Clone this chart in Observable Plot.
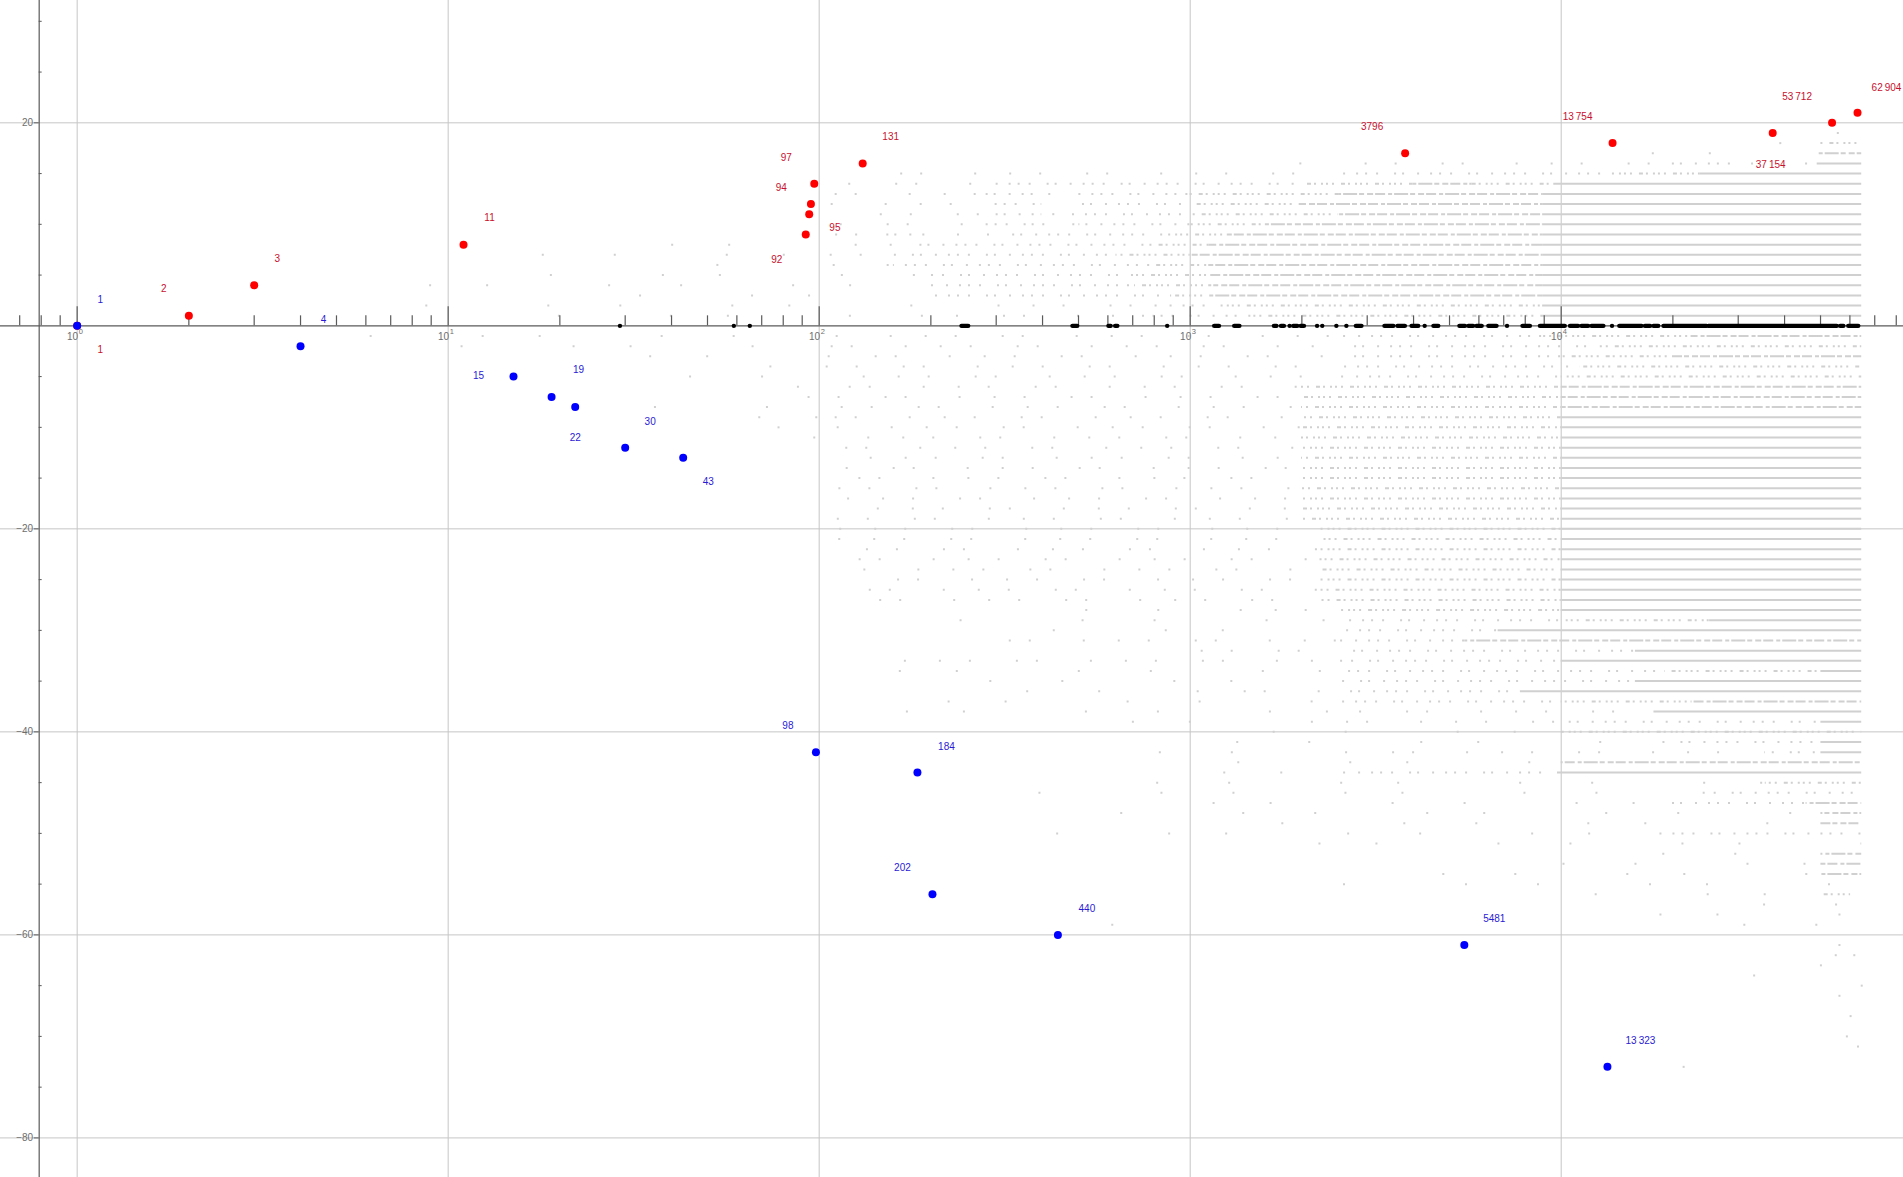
<!DOCTYPE html>
<html><head><meta charset="utf-8">
<script src="https://cdn.jsdelivr.net/npm/d3@7"></script>
<script src="https://cdn.jsdelivr.net/npm/@observablehq/plot@0.6"></script>
<style>
html,body{margin:0;padding:0;background:#fff;overflow:hidden;}
#chart svg{display:block;}
</style></head><body><div id="chart"></div>
<script>
// ---------- data ----------
// record highs (red) : n and value
const redN = [1, 2, 3, 11, 92, 94, 95, 97, 131, 3796, 13754, 37154, 53712, 62904];
const redY = [0, 1, 4, 8, 9, 11, 12, 14, 16, 17, 18, 19, 20, 21];
const redLabels = ["1","2","3","11","92","94","95","97","131","3796","13\u2009754","37\u2009154","53\u2009712","62\u2009904"];
// record lows (blue)
const blueN = [1, 4, 15, 19, 22, 30, 43, 98, 184, 202, 440, 5481, 13323];
const blueY = [0, -2, -5, -7, -8, -12, -13, -42, -44, -56, -60, -61, -73];
const blueLabels = ["1","4","15","19","22","30","43","98","184","202","440","5481","13\u2009323"];

// zeros (black), as log10(n): isolated ones and runs of consecutive zeros
const zeroSinglesLog = [1.463, 1.77, 1.813, 2.938, 3.268, 3.342, 3.356, 3.394, 3.421, 3.632, 3.854, 4.137];
const zeroRunsLog = [[2.385,2.403],[2.684,2.697],[2.781,2.787],[2.799,2.805],[3.066,3.079],[3.12,3.134],
  [3.227,3.234],[3.246,3.254],[3.279,3.29],[3.299,3.308],[3.448,3.463],[3.525,3.549],[3.56,3.58],
  [3.598,3.616],[3.657,3.67],[3.727,3.742],[3.751,3.764],[3.773,3.787],[3.805,3.827],[3.897,3.917],
  [3.944,4.011],[4.025,4.047],[4.056,4.074],[4.083,4.115],[4.158,4.218],[4.227,4.241],[4.25,4.263],
  [4.277,4.393],[4.398,4.744],[4.753,4.762],[4.775,4.802]];

// all other values (gray): per integer value, spans of log10(n) and how densely they are filled (0 sparse .. 5 full)
const upperRows = [
 [19, "4.72-4.81:0"],
 [18, "4.29-4.62:0,4.70-4.81:3"],
 [17, "4.10-4.55:0,4.69-4.81:4"],
 [16, "3.15-3.45:0,3.45-4.27:1,4.27-4.47:2,4.47-4.69:1,4.69-4.81:5"],
 [15, "2.12-3.40:1,3.40-4.13:2,4.13-4.375:3,4.375-4.81:5"],
 [14, "2.05-2.45:1,2.45-3.30:2,3.30-3.60:3,3.60-3.76:4,3.76-3.98:3,3.98-4.81:5"],
 [13, "2.00-2.45:1,2.45-2.60:2,2.60-2.70:1,2.70-3.00:2,3.00-3.40:3,3.40-3.95:4,3.95-4.81:5"],
 [12, "2.00-2.45:1,2.45-2.60:2,2.60-2.68:1,2.68-3.00:2,3.00-3.30:3,3.30-3.95:4,3.95-4.81:5"],
 [11, "2.10-2.45:1,2.45-2.60:2,2.60-2.68:1,2.68-3.00:2,3.00-3.40:3,3.40-3.95:4,3.95-4.81:5"],
 [10, "2.00-2.45:1,2.45-2.60:2,2.60-2.70:1,2.70-3.00:2,3.00-3.20:3,3.20-3.95:4,3.95-4.81:5"],
 [9,  "1.95-2.15:1,2.15-2.30:2,2.30-2.50:1,2.50-2.95:2,2.95-3.10:3,3.10-3.95:4,3.95-4.81:5"],
 [8,  "1.50-2.00:0,2.00-2.25:1,2.25-2.90:2,2.90-3.05:3,3.05-3.95:4,3.95-4.81:5"],
 [7,  "1.10-2.00:0,2.00-2.20:1,2.20-2.80:2,2.80-3.00:3,3.00-3.95:4,3.95-4.81:5"],
 [6,  "1.70-2.00:0,2.00-2.20:1,2.20-2.88:2,2.88-3.05:3,3.05-3.95:4,3.95-4.81:5"],
 [5,  "1.20-2.30:0,2.30-2.85:2,2.85-3.05:3,3.05-3.95:4,3.95-4.81:5"],
 [4,  "0.95-2.30:0,2.30-2.85:2,2.85-3.05:3,3.05-3.95:4,3.95-4.81:5"],
 [3,  "1.40-2.30:0,2.30-2.95:2,2.95-3.05:3,3.05-3.95:4,3.95-4.81:5"],
 [2,  "0.84-2.35:0,2.35-2.90:1,2.90-3.10:2,3.10-3.95:3,3.95-4.81:5"],
 [1,  "1.20-2.30:0,2.30-2.90:1,2.90-3.15:2,3.15-3.95:3,3.95-4.81:5"]
];
const lowerRows = [
 [-1, "0.69-2.00:0,2.00-3.40:1,3.40-3.95:2,3.95-4.35:3,4.35-4.81:4"],
 [-2, "0.90-2.00:0,2.00-3.40:1,3.40-4.10:2,4.10-4.81:3"],
 [-3, "1.50-2.00:0,2.00-3.40:1,3.40-4.00:2,4.00-4.30:3,4.30-4.81:4"],
 [-4, "1.70-2.00:0,2.00-3.40:1,3.40-4.05:2,4.05-4.81:3"],
 [-5, "1.40-2.00:0,2.00-3.40:1,3.40-4.00:2,4.00-4.81:3"],
 [-6, "1.75-2.00:0,2.00-3.30:1,3.30-4.00:3,4.00-4.81:4"],
 [-7, "1.90-3.30:1,3.30-4.00:3,4.00-4.81:4"],
 [-8, "1.37-2.00:0,2.00-3.30:1,3.30-4.00:3,4.00-4.81:4"],
 [-9, "1.60-2.00:0,2.00-3.30:1,3.30-4.00:3,4.00-4.81:5"],
 [-10, "1.66-2.00:0,2.00-3.30:1,3.30-4.00:3,4.00-4.81:5"],
 [-11, "1.98-3.30:1,3.30-4.00:3,4.00-4.81:5"],
 [-12, "1.98-3.30:1,3.30-4.00:3,4.00-4.81:5"],
 [-13, "2.00-3.30:1,3.30-4.00:3,4.00-4.81:5"],
 [-14, "2.00-3.30:1,3.30-4.00:3,4.00-4.81:5"],
 [-15, "2.01-3.30:1,3.30-4.00:3,4.00-4.81:5"],
 [-16, "2.01-3.30:1,3.30-4.00:3,4.00-4.81:5"],
 [-17, "2.02-3.30:1,3.30-4.00:3,4.00-4.81:5"],
 [-18, "2.03-3.30:1,3.30-4.00:3,4.00-4.81:5"],
 [-19, "2.03-3.30:1,3.30-4.00:3,4.00-4.81:5"],
 [-20, "2.05-3.35:1,3.35-4.00:3,4.00-4.81:5"],
 [-21, "2.05-3.35:1,3.35-4.00:3,4.00-4.81:5"],
 [-22, "2.06-3.35:1,3.35-4.00:3,4.00-4.81:5"],
 [-23, "2.07-3.35:1,3.35-4.00:3,4.00-4.81:5"],
 [-24, "2.08-3.35:1,3.35-4.00:3,4.00-4.81:5"],
 [-25, "2.09-3.35:1,3.35-4.00:3,4.00-4.81:5"],
 [-26, "2.10-3.35:1,3.35-4.00:3,4.00-4.81:5"],
 [-27, "2.12-3.35:1,3.35-4.00:3,4.00-4.81:5"],
 [-28, "2.60-3.00:0,3.00-3.40:1,3.40-4.00:3,4.00-4.81:5"],
 [-29, "2.28-3.40:0,3.40-4.00:2,4.00-4.40:3,4.40-4.81:5"],
 [-30, "2.48-3.40:0,3.40-3.83:2,3.83-4.81:5"],
 [-31, "2.48-3.40:1,3.40-3.74:2,3.74-4.81:4"],
 [-32, "3.00-3.40:1,3.40-4.20:2,4.20-4.81:5"],
 [-33, "2.20-3.40:1,3.40-4.00:2,4.00-4.81:5"],
 [-34, "2.03-3.40:0,3.40-4.28:2,4.28-4.70:3,4.70-4.81:5"],
 [-35, "2.15-3.40:0,3.40-4.20:2,4.20-4.81:5"],
 [-36, "2.50-3.00:0,3.00-3.40:1,3.40-3.89:2,3.89-4.81:5"],
 [-37, "2.14-3.40:0,3.40-4.00:2,4.00-4.35:3,4.35-4.81:4"],
 [-38, "2.13-3.40:0,3.40-4.25:1,4.25-4.81:5"],
 [-39, "2.58-3.40:0,3.40-4.00:1,4.00-4.70:2,4.70-4.81:5"],
 [-40, "3.00-4.00:0,4.00-4.81:3"],
 [-41, "3.05-4.25:0,4.25-4.70:2,4.70-4.81:5"],
 [-42, "2.65-3.40:0,3.40-4.55:1,4.55-4.70:2,4.70-4.81:5"],
 [-43, "2.98-4.00:0,4.00-4.81:4"],
 [-44, "2.98-3.40:0,3.40-3.99:2,3.99-4.81:5"],
 [-45, "2.88-4.55:0,4.55-4.81:3"],
 [-46, "2.56-4.38:0,4.38-4.81:2"],
 [-47, "2.90-4.30:0,4.30-4.66:2,4.66-4.81:4"],
 [-48, "2.74-4.70:0,4.70-4.81:4"],
 [-49, "3.22-4.70:0,4.70-4.81:4"],
 [-50, "2.57-4.25:0,4.25-4.81:2"],
 [-51, "3.25-4.81:0"],
 [-52, "3.98-4.70:0,4.70-4.81:4"],
 [-53, "3.80-4.70:0,4.70-4.81:4"],
 [-54, "3.60-4.70:0,4.70-4.81:4"],
 [-55, "3.30-4.81:0"],
 [-56, "4.00-4.69:0,4.69-4.78:3"],
 [-57, "4.47-4.81:0"],
 [-58, "4.25-4.81:0"],
 [-59, "4.22-4.81:0"]
];
// scattered single gray points far below: [log10 n, value]
const isolatedLog = [[2.79,-59],[4.75,-61],[4.74,-62],[4.79,-62],[4.70,-63],[4.52,-64],[4.81,-65],
  [4.75,-66],[4.78,-68],[4.77,-70],[4.80,-71],[4.33,-73]];

// axes
const decadeExponents = [0, 1, 2, 3, 4];
const yTickValues = [20, -20, -40, -60, -80];
const yAxisAtX = 0.79;

// ---------- layout / style ----------
const W = 1903, H = 1177;
const grayColor = "#d0d0d0", gridColor = "#c6c6c6", axisColor = "#5a5a5a", tickLabelColor = "#6e6e6e";
const redDot = "#ff0000", blueDot = "#0000ff", redText = "#c8102e", blueText = "#2a1ad6";
// irregular dash patterns so that sparse rows look like scattered points
const dashByLevel = [
  "2,70,2,110,2,55,2,120",
  "2,28,2,45,2,18,2,52,2,33",
  "2,9,2,16,2,6,2,13,2,11,2,7",
  "2,4,2,7,4,3,2,5,2,3",
  "6,2,10,3,4,2,14,2,5,3",
  null];
const redLabelDx = [23,-25,23,26,-29,-28,24,-28,28,-33,-35,-2,-35,29];
const redLabelDy = [24,-27,-26,-27,25,-26,24,-26,-27,-26,-26,32,-26,-25];
const blueLabelDx = [23,23,-35,27,0,25,25,-28,29,-30,29,30,33];
const blueLabelDy = [-26,-26,-1,-27,31,-26,24,-26,-26,-26,-26,-26,-26];

// ---------- build tables ----------
const segs = [];
for (const [y, spec] of upperRows.concat(lowerRows)) {
  for (const part of spec.split(",")) {
    const [rng, lev] = part.split(":");
    const [a, b] = rng.split("-").map(Number);
    segs.push({y, a, x1: 10 ** a, x2: 10 ** b, level: +lev});
  }
}
const red = redN.map((n, i) => ({n, y: redY[i], label: redLabels[i], dx: redLabelDx[i], dy: redLabelDy[i]}));
const blue = blueN.map((n, i) => ({n, y: blueY[i], label: blueLabels[i], dx: blueLabelDx[i], dy: blueLabelDy[i]}));
const majorTicks = decadeExponents.map(e => 10 ** e);
const minorTicks = [];
for (let e = -1; e <= 4; e++) for (let m = 2; m <= 9; m++) {
  const v = m * 10 ** e; if (v > 0.62 && v < 83000) minorTicks.push(v);
}
const yMinor = [];
for (let v = -80; v <= 30; v += 5) if (v % 20 !== 0) yMinor.push(v);

const marks = [
  Plot.ruleX(majorTicks, {x: d => d, stroke: gridColor, strokeWidth: 1}),
  Plot.ruleY(yTickValues, {y: d => d, stroke: gridColor, strokeWidth: 1})
];
const segsByLevel = [];
for (let k = 0; k <= 5; k++) {
  segsByLevel[k] = segs.filter(s => s.level === k);
  const opts = {y: "y", x1: "x1", x2: "x2", stroke: grayColor, strokeWidth: 2};
  if (dashByLevel[k]) opts.strokeDasharray = dashByLevel[k];
  marks.push(Plot.ruleY(segsByLevel[k], opts));
}
marks.push(
  Plot.dot(isolatedLog, {x: d => 10 ** d[0], y: d => d[1], r: 1.13, symbol: "square", fill: grayColor, stroke: "none"}),
  // axes
  Plot.ruleY([0], {y: d => d, stroke: axisColor, strokeWidth: 1.2}),
  Plot.ruleX([yAxisAtX], {x: d => d, stroke: axisColor, strokeWidth: 1.2}),
  Plot.ruleX(majorTicks, {x: d => d, y1: () => 0, y2: () => 0, insetTop: -19, stroke: axisColor, strokeWidth: 1.2}),
  Plot.ruleX(minorTicks, {x: d => d, y1: () => 0, y2: () => 0, insetTop: -10, stroke: axisColor, strokeWidth: 1.2}),
  Plot.ruleY(yMinor, {y: d => d, x1: () => yAxisAtX, x2: () => yAxisAtX, insetRight: -3, stroke: axisColor, strokeWidth: 1}),
  Plot.ruleY(yTickValues, {y: d => d, x1: () => yAxisAtX, x2: () => yAxisAtX, insetLeft: -5, stroke: axisColor, strokeWidth: 1}),
  Plot.text(majorTicks, {x: d => d, y: () => 0, text: () => "10", textAnchor: "end", dx: 1, dy: 11, fill: tickLabelColor, fontSize: 10}),
  Plot.text(decadeExponents, {x: e => 10 ** e, y: () => 0, text: e => String(e), textAnchor: "start", dx: 1.5, dy: 5.5, fill: tickLabelColor, fontSize: 7.5}),
  Plot.text(yTickValues, {x: () => yAxisAtX, y: d => d, text: d => d < 0 ? "\u2212" + (-d) : String(d), textAnchor: "end", dx: -6, fill: tickLabelColor, fontSize: 10}),
  // zeros
  Plot.ruleY(zeroRunsLog, {y: () => 0, x1: d => 10 ** d[0], x2: d => 10 ** d[1], stroke: "#000", strokeWidth: 4.4, strokeLinecap: "round"}),
  Plot.dot(zeroSinglesLog, {x: d => 10 ** d, y: () => 0, r: 2.2, fill: "#000", stroke: "none"}),
  // records
  Plot.dot(red, {x: "n", y: "y", r: 4, fill: redDot, stroke: "none"}),
  Plot.dot(blue, {x: "n", y: "y", r: 4, fill: blueDot, stroke: "none"})
);
for (const d of red) marks.push(Plot.text([d], {x: "n", y: "y", text: "label", dx: d.dx, dy: d.dy, fill: redText, fontSize: 10}));
for (const d of blue) marks.push(Plot.text([d], {x: "n", y: "y", text: "label", dx: d.dx, dy: d.dy, fill: blueText, fontSize: 10}));

const chart = Plot.plot({
  width: W, height: H,
  marginTop: 0, marginRight: 0, marginBottom: 0, marginLeft: 0,
  x: {type: "log", domain: [0.6214, 83680], range: [0, W], axis: null},
  y: {type: "linear", domain: [-83.9, 32.05], range: [H, 0], axis: null},
  style: {fontFamily: "'Liberation Sans', Arial, sans-serif", background: "#fff"},
  marks
});
// shift the dash phase row by row (integer hash of the row) so the sparse points do not line up
function mix(n) {
  n = (n ^ 61) ^ (n >>> 16);
  n = (n + (n << 3)) | 0;
  n = n ^ (n >>> 4);
  n = Math.imul(n, 0x27d4eb2d);
  n = n ^ (n >>> 15);
  return n >>> 0;
}
const groups = Array.from(chart.querySelectorAll("g"));
for (let k = 0; k <= 4; k++) {
  const pat = dashByLevel[k];
  const period = pat.split(",").map(Number).reduce((a, b) => a + b, 0);
  const rows = segsByLevel[k];
  const g = groups.find(el => (el.getAttribute("stroke-dasharray") || "").replace(/\s/g, "") === pat);
  if (!g) continue;
  g.querySelectorAll("line").forEach((ln, i) => {
    const s = rows[i];
    const key = s ? mix((s.y + 500) * 1000 + Math.round(s.a * 100)) : mix(i + 7);
    ln.setAttribute("stroke-dashoffset", String(key % period));
  });
}
document.getElementById("chart").appendChild(chart);
</script></body></html>
